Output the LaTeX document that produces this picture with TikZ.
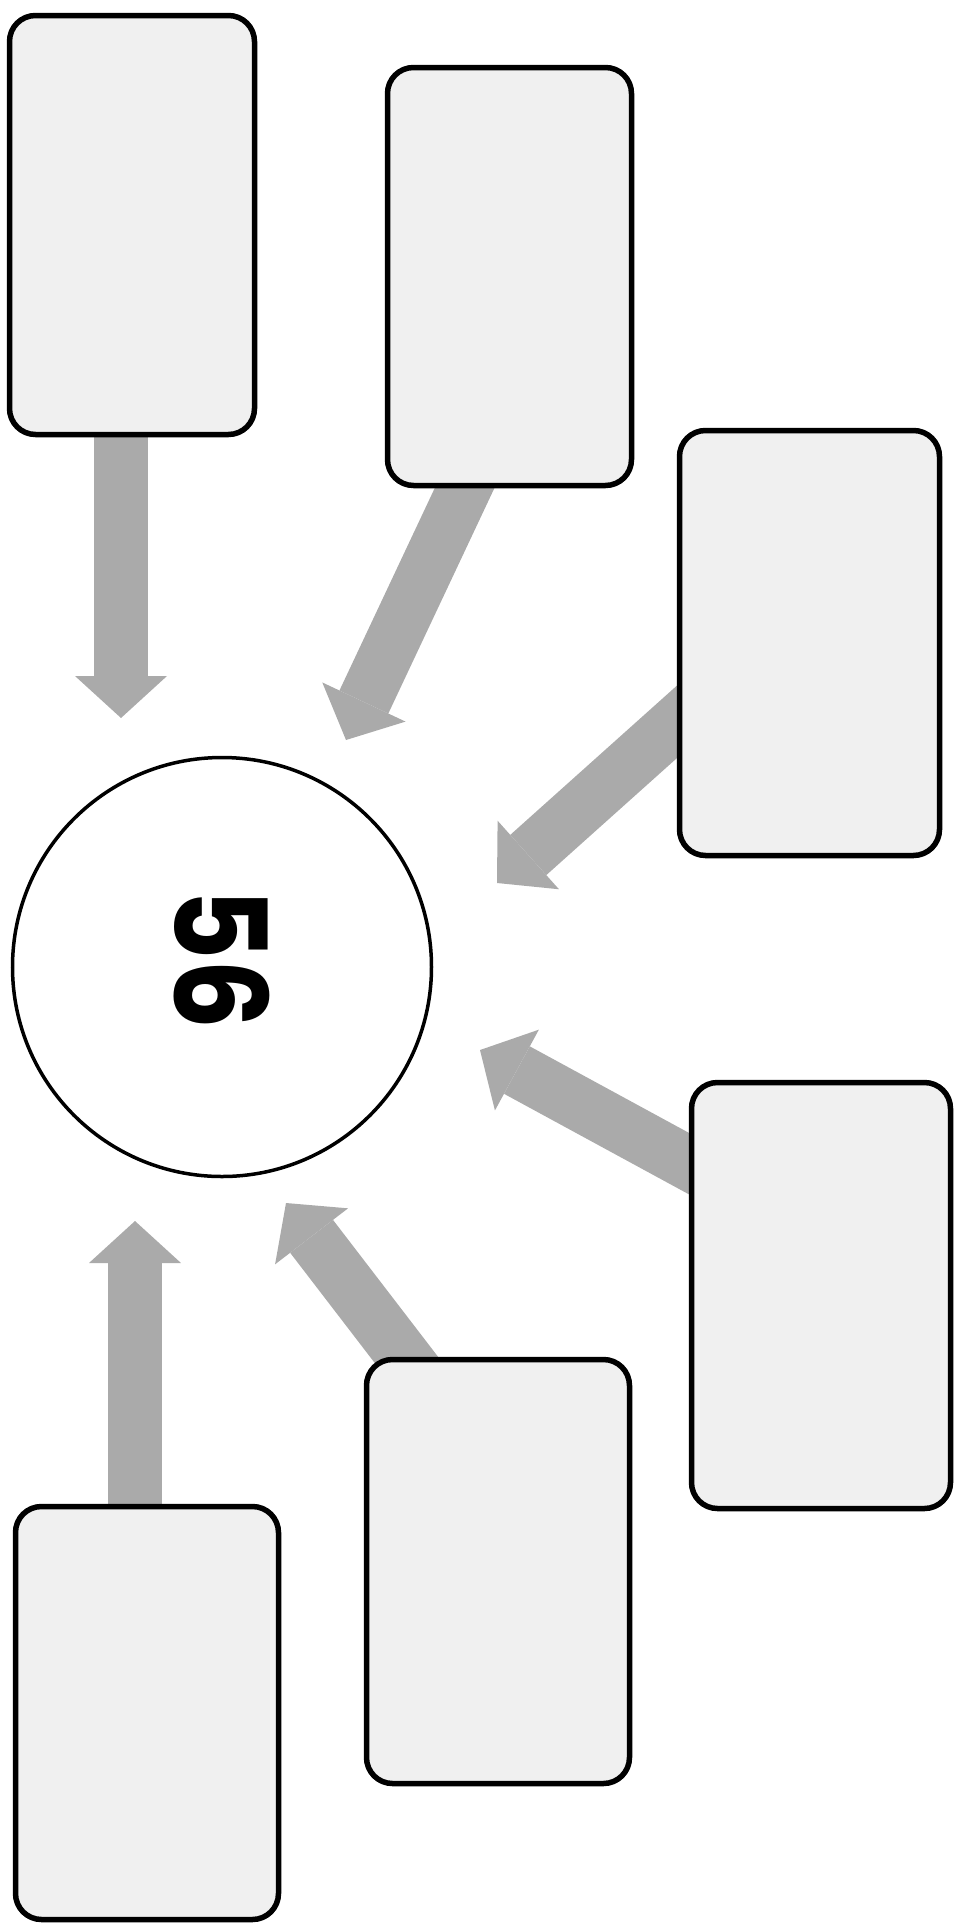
\documentclass[tikz,border=0pt]{standalone}
\usepackage{fontspec}
\setsansfont{Poppins}
\usetikzlibrary{calc,arrows.meta}
\definecolor{cardfill}{HTML}{F0F0F0}
\definecolor{arrowgray}{HTML}{AAAAAA}
\pgfdeclarelayer{bg}
\pgfsetlayers{bg,main}

\begin{document}
\begin{tikzpicture}[x=1pt,y=1pt,
        card/.style={draw=black, line width=5.5pt, fill=cardfill, rounded corners=26pt, inner sep=0pt},
        hub/.style={draw=black, line width=3.5pt, circle, fill=white, inner sep=0pt, minimum size=419pt},
        flow/.style={arrowgray, line width=54pt, shorten <=-30pt,
            -{Triangle[length=42pt 0 0, width=92pt 0 0, line width=0pt]}}]
        \useasboundingbox (0,0) rectangle (956,-1925);

        \node[hub] (hub) at (222,-967) {};
        \node[rotate=-90, xscale=0.86, font=\sffamily\bfseries\fontsize{128}{128}\selectfont] (val) at ($(hub.center)+(0,8)$) {56};

        \node[card, minimum width=245pt, minimum height=419pt] (b1) at (132,-225) {};
        \node[card, minimum width=244pt, minimum height=418pt] (b2) at (509.5,-276.5) {};
        \node[card, minimum width=260pt, minimum height=425pt] (b3) at (809.5,-643) {};
        \node[card, minimum width=259pt, minimum height=426pt] (b4) at (821,-1295.5) {};
        \node[card, minimum width=263pt, minimum height=424pt] (b5) at (498,-1571.5) {};
        \node[card, minimum width=263pt, minimum height=413pt] (b6) at (147,-1713) {};

        % arrow tips
        \coordinate (t1) at (121,-718);
        \coordinate (t2) at (346,-740);
        \coordinate (t3) at (497,-883);
        \coordinate (t4) at (480,-1050);
        \coordinate (t5) at (286,-1203);
        \coordinate (t6) at (135,-1221);

        \begin{pgfonlayer}{bg}
            \draw[flow] (t1 |- b1.south) -- (t1);
            \draw[flow] ($(b2.south)+(-45,0)$) -- (t2);
            \draw[flow] ($(b3.west)+(0,-79)$) -- (t3);
            \draw[flow] ($(b4.west)+(0,132)$) -- (t4);
            \draw[flow] ($(b5.north)+(-94,0)$) -- (t5);
            \draw[flow] (t6 |- b6.north) -- (t6);
        \end{pgfonlayer}
    \end{tikzpicture}
\end{document}
